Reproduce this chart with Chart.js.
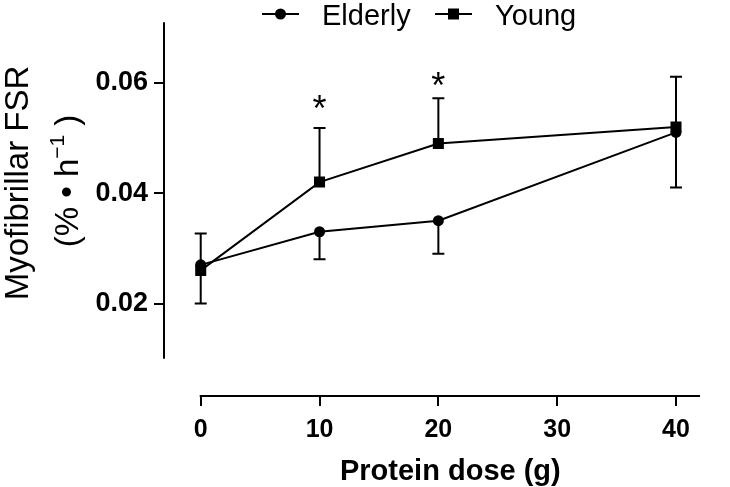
<!DOCTYPE html>
<html>
<head>
<meta charset="utf-8">
<script src="https://cdn.jsdelivr.net/npm/chart.js@4.4.1/dist/chart.umd.min.js"></script>
<style>
  html, body { margin: 0; padding: 0; background: #fff; }
  #wrap { width: 730px; height: 487px; }
</style>
</head>
<body>
<div id="wrap"><canvas id="fsrChart"></canvas></div>
<script>
const doses = [0, 10, 20, 40];
const elderly = [0.027, 0.033, 0.035, 0.051];
const elderlyLow = [0.020, 0.028, 0.029, 0.041];
const young = [0.026, 0.042, 0.049, 0.052];
const youngHigh = [0.0327, 0.0518, 0.0572, 0.0611];
const starDoses = [10, 20];
const starValues = [0.0554, 0.0596];
const xTicks = [0, 10, 20, 30, 40];
const yTicks = [0.02, 0.04, 0.06];
const yTickLabels = ['0.02', '0.04', '0.06'];

const FONT = "'Liberation Sans', Arial, sans-serif";

// axis lines, error bars, titles, legend and stars
const extras = {
    id: 'extras',
    beforeDatasetsDraw(chart) {
        const {ctx, scales: {x, y}} = chart;
        ctx.save();
        ctx.strokeStyle = '#000';
        ctx.lineWidth = 2;
        ctx.beginPath();
        ctx.moveTo(x.left, y.getPixelForValue(0.01));
        ctx.lineTo(x.left, y.top);
        ctx.moveTo(x.getPixelForValue(0) - 1, y.bottom);
        ctx.lineTo(x.right, y.bottom);
        ctx.stroke();

        const bar = (xv, v1, v2) => {
            const px = x.getPixelForValue(xv);
            const p1 = y.getPixelForValue(v1);
            const p2 = y.getPixelForValue(v2);
            ctx.beginPath();
            ctx.moveTo(px, p1);
            ctx.lineTo(px, p2);
            ctx.moveTo(px - 6, p2);
            ctx.lineTo(px + 6, p2);
            ctx.stroke();
        };
        doses.forEach((d, i) => {
            bar(d, elderly[i], elderlyLow[i]);
            bar(d, young[i], youngHigh[i]);
        });
        ctx.restore();
    },
    afterDraw(chart) {
        const {ctx, scales: {x, y}} = chart;
        ctx.save();
        ctx.fillStyle = '#000';
        ctx.strokeStyle = '#000';

        // stars
        ctx.font = '36px ' + FONT;
        ctx.textAlign = 'center';
        ctx.textBaseline = 'alphabetic';
        starDoses.forEach((d, i) => {
            ctx.fillText('*', x.getPixelForValue(d), y.getPixelForValue(starValues[i]) + 13);
        });

        // x title
        ctx.font = 'bold 29px ' + FONT;
        ctx.fillText('Protein dose (g)', (x.getPixelForValue(0) + x.right) / 2, 480);

        // y title
        ctx.font = '33px ' + FONT;
        ctx.save();
        ctx.translate(28, 183);
        ctx.rotate(-Math.PI / 2);
        ctx.fillText('Myofibrillar FSR', 0, 0);
        ctx.restore();

        ctx.save();
        ctx.translate(78, 181);
        ctx.rotate(-Math.PI / 2);
        ctx.textAlign = 'left';
        const a = '(% \u2022 h', sup = '\u22121', b = ' )';
        ctx.font = '33px ' + FONT;
        const wa = ctx.measureText(a).width, wb = ctx.measureText(b).width;
        ctx.font = '21px ' + FONT;
        const ws = ctx.measureText(sup).width;
        let cx = -(wa + ws + wb) / 2;
        ctx.font = '33px ' + FONT;
        ctx.fillText(a, cx, 0);
        cx += wa;
        ctx.font = '21px ' + FONT;
        ctx.fillText(sup, cx, -14);
        cx += ws;
        ctx.font = '33px ' + FONT;
        ctx.fillText(b, cx, 0);
        ctx.restore();

        // legend
        ctx.lineWidth = 2;
        ctx.font = '29px ' + FONT;
        ctx.textAlign = 'left';
        const ly = 14;
        ctx.beginPath();
        ctx.moveTo(262, ly); ctx.lineTo(299, ly);
        ctx.moveTo(435, ly); ctx.lineTo(472, ly);
        ctx.stroke();
        ctx.beginPath();
        ctx.arc(280.5, ly, 5.5, 0, Math.PI * 2);
        ctx.fill();
        ctx.fillRect(453.5 - 5.5, ly - 5.5, 11, 11);
        ctx.fillText('Elderly', 322, 25);
        ctx.fillText('Young', 495, 25);
        ctx.restore();
    }
};

const cvs = document.getElementById('fsrChart');

new Chart(cvs, {
    type: 'line',
    data: {
        datasets: [{
            label: 'Elderly',
            data: doses.map((d, i) => ({x: d, y: elderly[i]})),
            borderColor: '#000',
            backgroundColor: '#000',
            borderWidth: 2,
            pointStyle: 'circle',
            pointRadius: 5.5,
            pointBorderWidth: 0,
            tension: 0
        }, {
            label: 'Young',
            data: doses.map((d, i) => ({x: d, y: young[i]})),
            borderColor: '#000',
            backgroundColor: '#000',
            borderWidth: 2,
            pointStyle: 'rect',
            pointRadius: 7.8,
            pointBorderWidth: 0,
            tension: 0
        }]
    },
    options: {
        responsive: true,
        maintainAspectRatio: false,
        animation: false,
        layout: { padding: { top: 15, right: 30, left: 0, bottom: 0 } },
        plugins: {
            legend: { display: false },
            tooltip: { enabled: false },
            title: { display: false }
        },
        scales: {
            x: {
                type: 'linear',
                min: -3.09,
                max: 42.02,
                afterBuildTicks: (s) => { s.ticks = xTicks.map(v => ({value: v})); },
                afterFit: (s) => { s.height = 91; },
                border: { display: false },
                grid: { drawOnChartArea: false, drawTicks: true, tickLength: 10, color: '#000', lineWidth: 2 },
                ticks: {
                    color: '#000',
                    padding: 9,
                    maxRotation: 0,
                    font: { family: FONT, size: 25, weight: 'bold' }
                }
            },
            y: {
                min: 0.00324,
                max: 0.07097,
                afterBuildTicks: (s) => { s.ticks = yTicks.map(v => ({value: v})); },
                afterFit: (s) => { s.width = 164; },
                border: { display: false },
                grid: { drawOnChartArea: false, drawTicks: true, tickLength: 10, color: '#000', lineWidth: 2 },
                ticks: {
                    color: '#000',
                    padding: 6,
                    callback: (v, i) => yTickLabels[i],
                    font: { family: FONT, size: 27, weight: 'bold' }
                }
            }
        }
    },
    plugins: [extras]
});
</script>
</body>
</html>
